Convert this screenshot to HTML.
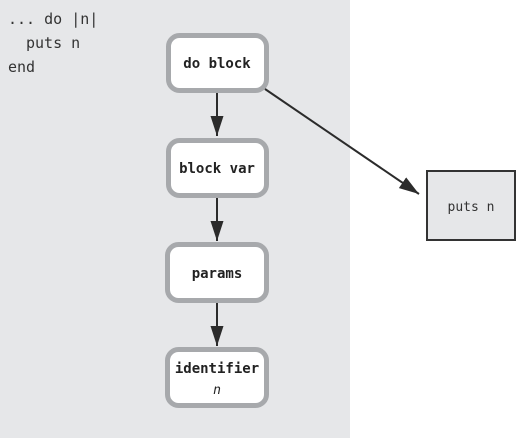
<!DOCTYPE html>
<html><head><style>
body{margin:0;width:516px;height:438px;background:#fff;overflow:hidden}
svg text{font-family:"DejaVu Sans Mono","Liberation Mono",monospace}
</style></head><body>
<svg width="516" height="438" viewBox="0 0 516 438">
<defs><marker id="a" viewBox="0 0 10 10" markerWidth="20" markerHeight="13" refX="10" refY="5" orient="auto" markerUnits="userSpaceOnUse" preserveAspectRatio="none"><path d="M0,0 L10,5 L0,10 Z" fill="#2b2b2b"/></marker></defs>
<rect x="0" y="0" width="350" height="438" fill="#e6e7e9"/>
<text x="8" y="24" font-size="15" fill="#333">... do |n|</text>
<text x="26" y="48" font-size="15" fill="#333">puts n</text>
<text x="8" y="72" font-size="15" fill="#333">end</text>
<g fill="#fff" stroke="#a7a9ac" stroke-width="5">
<rect x="168.5" y="35.5" width="98" height="55" rx="11"/>
<rect x="168.5" y="140.5" width="98" height="55" rx="11"/>
<rect x="167.5" y="244.5" width="99" height="56" rx="11"/>
<rect x="167.5" y="349.5" width="99" height="56" rx="11"/>
</g>
<g font-size="14" font-weight="bold" fill="#222" text-anchor="middle">
<text x="217" y="68">do block</text>
<text x="217" y="173">block var</text>
<text x="217" y="278">params</text>
<text x="217" y="373">identifier</text>
</g>
<text x="217" y="394" font-size="13" font-style="italic" fill="#222" text-anchor="middle" font-family="Liberation Sans,sans-serif">n</text>
<g stroke="#2b2b2b" stroke-width="2">
<line x1="217" y1="93" x2="217" y2="136" marker-end="url(#a)"/>
<line x1="217" y1="198" x2="217" y2="241" marker-end="url(#a)"/>
<line x1="217" y1="303" x2="217" y2="346" marker-end="url(#a)"/>
<line x1="265" y1="89" x2="419" y2="194" marker-end="url(#a)"/>
</g>
<rect x="427" y="171" width="88" height="69" fill="#e6e7e9" stroke="#333" stroke-width="2"/>
<text x="471" y="211" font-size="13" fill="#333" text-anchor="middle">puts n</text>
</svg>
</body></html>
